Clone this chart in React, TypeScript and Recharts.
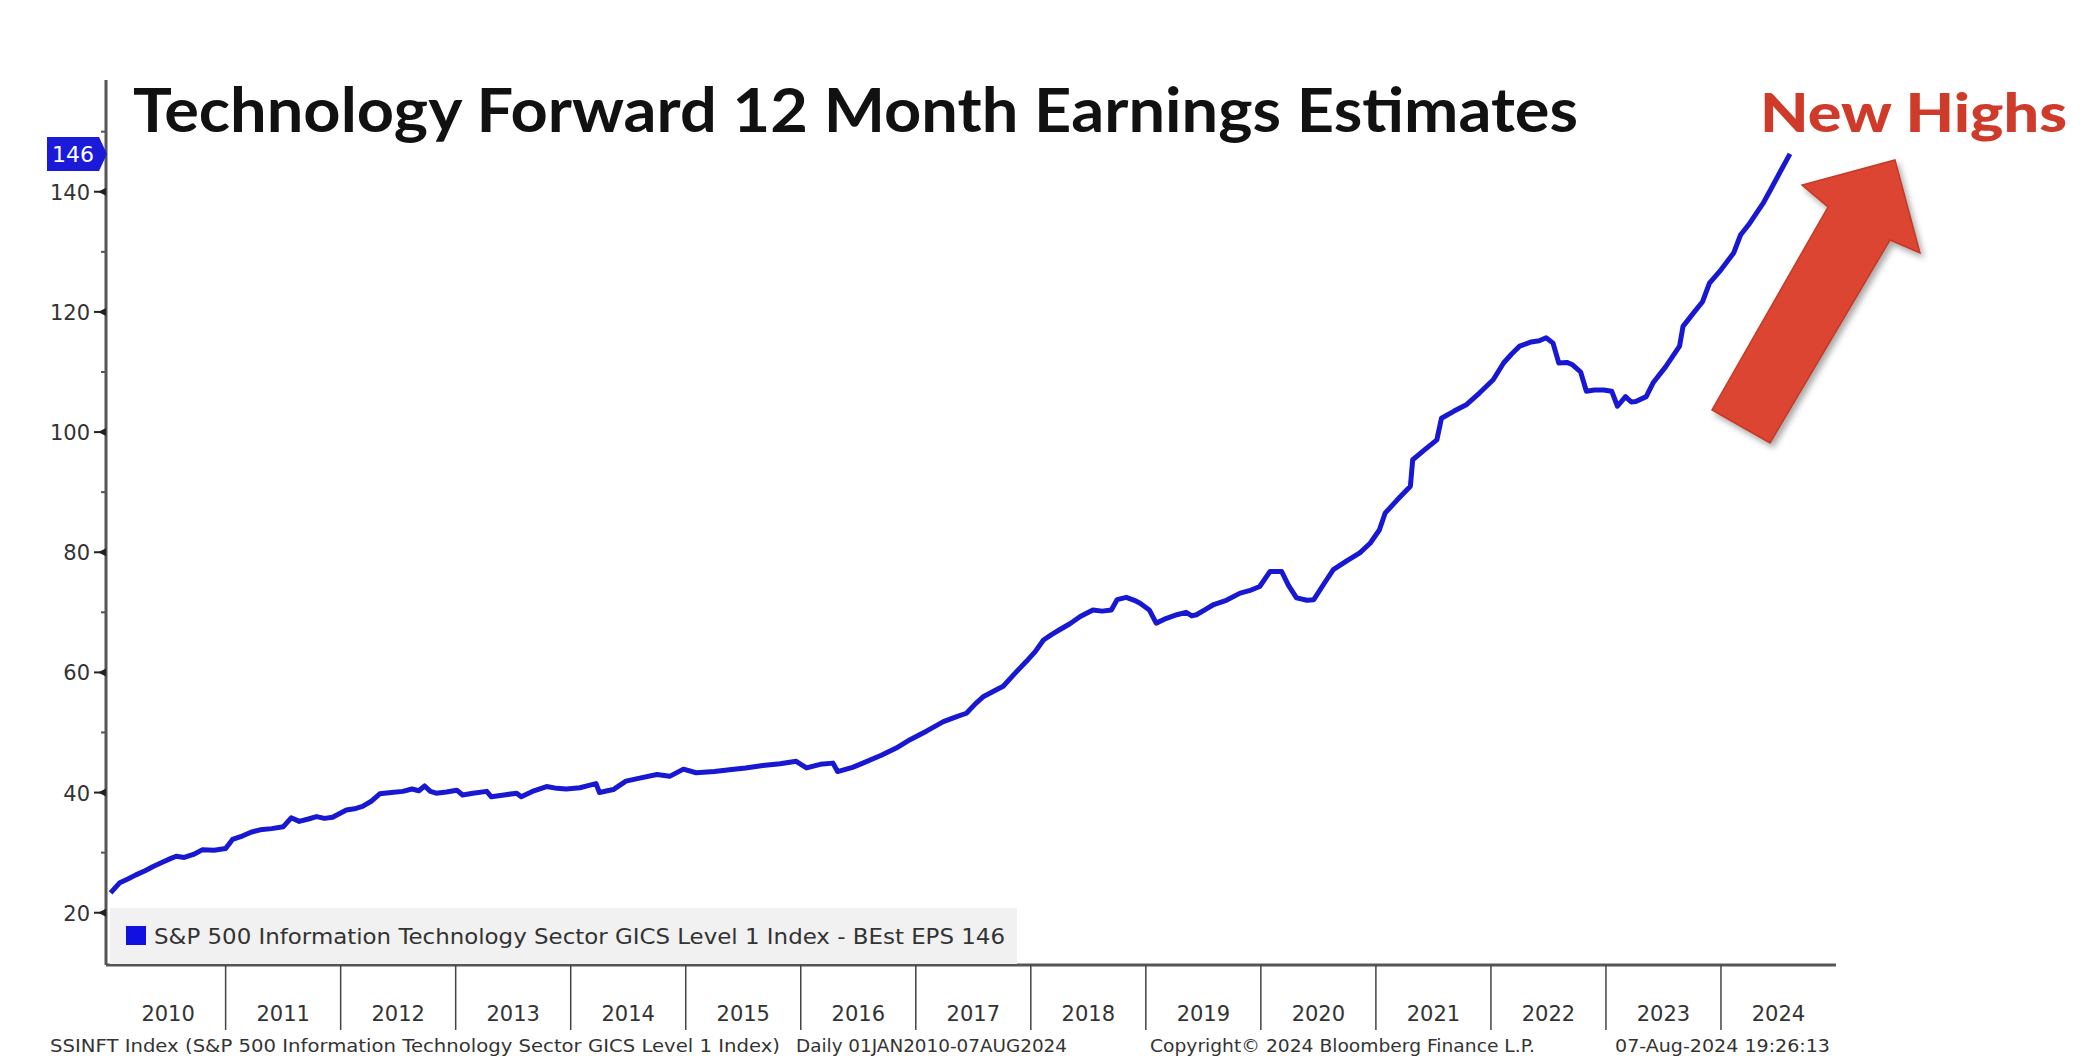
import { Legend, Line, LineChart, XAxis, YAxis } from 'recharts'

// decimal year of each reading, and the forward EPS
const dates = [
  2010.0, 2010.08, 2010.15, 2010.22, 2010.3, 2010.37, 2010.45, 2010.52, 2010.57, 2010.64,
  2010.72, 2010.8, 2010.9, 2011.0, 2011.06, 2011.15, 2011.22, 2011.3, 2011.4, 2011.5,
  2011.57, 2011.64, 2011.72, 2011.79, 2011.86, 2011.93, 2012.05, 2012.12, 2012.19, 2012.27,
  2012.34, 2012.44, 2012.54, 2012.62, 2012.68, 2012.73, 2012.78, 2012.83, 2012.92, 2013.01,
  2013.06, 2013.15, 2013.27, 2013.31, 2013.42, 2013.53, 2013.57, 2013.68, 2013.79, 2013.88,
  2013.96, 2014.08, 2014.16, 2014.22, 2014.25, 2014.37, 2014.48, 2014.6, 2014.75, 2014.86,
  2014.98, 2015.09, 2015.25, 2015.38, 2015.52, 2015.67, 2015.82, 2015.96, 2016.05, 2016.17,
  2016.28, 2016.32, 2016.45, 2016.54, 2016.7, 2016.83, 2016.95, 2017.1, 2017.24, 2017.35,
  2017.44, 2017.52, 2017.59, 2017.68, 2017.76, 2017.86, 2017.96, 2018.04, 2018.11, 2018.18,
  2018.25, 2018.34, 2018.43, 2018.54, 2018.62, 2018.7, 2018.75, 2018.83, 2018.9, 2018.95,
  2019.03, 2019.09, 2019.18, 2019.27, 2019.35, 2019.4, 2019.44, 2019.52, 2019.59, 2019.7,
  2019.82, 2019.9, 2019.99, 2020.08, 2020.18, 2020.24, 2020.31, 2020.4, 2020.46, 2020.55,
  2020.63, 2020.75, 2020.86, 2020.95, 2021.03, 2021.08, 2021.18, 2021.3, 2021.32, 2021.42,
  2021.53, 2021.57, 2021.68, 2021.79, 2021.9, 2022.02, 2022.11, 2022.18, 2022.25, 2022.35,
  2022.42, 2022.48, 2022.54, 2022.59, 2022.66, 2022.71, 2022.78, 2022.83, 2022.9, 2022.98,
  2023.05, 2023.1, 2023.17, 2023.22, 2023.26, 2023.35, 2023.41, 2023.52, 2023.64, 2023.67,
  2023.76, 2023.84, 2023.9, 2024.0, 2024.11, 2024.17, 2024.24, 2024.31, 2024.37, 2024.43,
  2024.52, 2024.6,
]
const eps = [
  23.3, 25.0, 25.6, 26.3, 27.0, 27.7, 28.4, 29.0, 29.4, 29.2,
  29.7, 30.5, 30.4, 30.7, 32.2, 32.8, 33.4, 33.8, 34.0, 34.3,
  35.8, 35.2, 35.6, 36.0, 35.7, 35.9, 37.1, 37.3, 37.7, 38.6,
  39.8, 40.0, 40.2, 40.6, 40.3, 41.1, 40.2, 39.9, 40.1, 40.4,
  39.6, 39.9, 40.2, 39.3, 39.6, 39.9, 39.3, 40.3, 41.0, 40.7,
  40.6, 40.8, 41.2, 41.5, 40.0, 40.5, 41.9, 42.4, 43.0, 42.7,
  43.9, 43.3, 43.5, 43.8, 44.1, 44.5, 44.8, 45.2, 44.1, 44.7,
  44.9, 43.5, 44.2, 44.9, 46.2, 47.4, 48.8, 50.3, 51.8, 52.6,
  53.2, 54.8, 56.0, 56.9, 57.7, 59.8, 61.8, 63.5, 65.4, 66.3,
  67.1, 68.1, 69.3, 70.4, 70.2, 70.4, 72.1, 72.5, 72.0, 71.5,
  70.4, 68.2, 69.0, 69.6, 70.0, 69.4, 69.6, 70.5, 71.3, 72.0,
  73.2, 73.6, 74.3, 76.8, 76.8, 74.5, 72.4, 72.0, 72.1, 74.8,
  77.1, 78.6, 79.9, 81.5, 83.7, 86.5, 88.6, 91.0, 95.4, 97.0,
  98.7, 102.3, 103.5, 104.6, 106.5, 108.7, 111.5, 113.0, 114.3, 115.0,
  115.2, 115.7, 114.8, 111.5, 111.6, 111.2, 110.0, 106.8, 107.0, 107.0,
  106.8, 104.3, 105.9, 105.0, 105.1, 105.9, 108.2, 110.9, 114.3, 117.6,
  119.8, 121.7, 124.8, 127.0, 129.8, 132.8, 134.5, 136.5, 138.2, 140.3,
  143.5, 146.3,
]

// year boundaries get a separator, mid-years carry the label
const yearBounds = [2011, 2012, 2013, 2014, 2015, 2016, 2017, 2018, 2019, 2020, 2021, 2022, 2023, 2024]
const yearMids = [2010.5, 2011.5, 2012.5, 2013.5, 2014.5, 2015.5, 2016.5, 2017.5, 2018.5, 2019.5, 2020.5, 2021.5, 2022.5, 2023.5, 2024.5]
const yearLabels = ['2010', '2011', '2012', '2013', '2014', '2015', '2016', '2017', '2018', '2019', '2020', '2021', '2022', '2023', '2024']
const minorTicks = [30, 50, 70, 90, 110, 130, 150]
const majorTicks = [20, 40, 60, 80, 100, 120, 140]

const lastEps = eps[eps.length - 1]
const title = 'Technology Forward 12 Month Earnings Estimates'
const callout = 'New Highs'
const legendLabel = 'S&P 500 Information Technology Sector GICS Level 1 Index - BEst EPS 146'
const footerNotes = [
  { text: 'SSINFT Index (S&P 500 Information Technology Sector GICS Level 1 Index)', x: 50, w: 730 },
  { text: 'Daily 01JAN2010-07AUG2024', x: 796, w: 271 },
  { text: 'Copyright© 2024 Bloomberg Finance L.P.', x: 1150, w: 385 },
  { text: '07-Aug-2024 19:26:13', x: 1615, w: 215 },
]

const LINE_BLUE = '#1818d2'
const TEXT = '#333333'
const FONT = '"DejaVu Sans", Verdana, sans-serif'

const chartData = dates.map((d, i) => ({ date: d, eps: eps[i] }))
const xTicks = [...yearBounds, ...yearMids].sort((a, b) => a - b)

function ValueTick(props: any) {
  const { x, y, payload } = props
  const v = payload.value
  if (v === lastEps) {
    return (
      <g>
        <path
          d={`M${x - 59},${y - 17} H${x - 7} L${x + 1},${y} L${x - 7},${y + 17} H${x - 59} Z`}
          fill='#1a1ad8'
        />
        <text x={x - 33} y={y + 8} textAnchor='middle' fill='#ffffff' fontSize={22} fontFamily={FONT}>
          {Math.round(v)}
        </text>
      </g>
    )
  }
  if (majorTicks.includes(v)) {
    return (
      <g>
        <line x1={x - 12} x2={x - 4} y1={y} y2={y} stroke='#222' strokeWidth={2} />
        <path d={`M${x - 8},${y} L${x},${y - 4} L${x},${y + 4} Z`} fill='#222' />
        <text x={x - 16} y={y + 8} textAnchor='end' fill={TEXT} fontSize={21} fontFamily={FONT}>
          {v}
        </text>
      </g>
    )
  }
  return <line x1={x - 5} x2={x} y1={y} y2={y} stroke='#555' strokeWidth={2} />
}

function YearTick(props: any) {
  const { x, y, payload } = props
  const v = payload.value
  if (yearBounds.includes(v)) {
    return <line x1={x} x2={x} y1={y} y2={y + 65} stroke='#444' strokeWidth={1.5} />
  }
  return (
    <text x={x} y={y + 56} textAnchor='middle' fill={TEXT} fontSize={21} fontFamily={FONT}>
      {yearLabels[yearMids.indexOf(v)]}
    </text>
  )
}

function LegendBox() {
  return (
    <div style={{ width: 907, height: 56, background: '#f1f1f1' }}>
      <svg width={907} height={56}>
        <rect x={16} y={18} width={20} height={19} fill='#1010e0' />
        <text x={44} y={36} fontSize={21} fill={TEXT} fontFamily={FONT} textLength={851} lengthAdjust='spacingAndGlyphs'>
          {legendLabel}
        </text>
      </svg>
    </div>
  )
}

export default function App() {
  return (
    <div style={{ position: 'absolute', left: 0, top: 0, width: 2084, height: 1061, background: '#fff' }}>
      <LineChart
        width={2084}
        height={1061}
        data={chartData}
        margin={{ top: 80, right: 248, bottom: 0, left: 0 }}
      >
        <XAxis
          dataKey='date'
          type='number'
          domain={[2009.96, 2025]}
          allowDataOverflow
          ticks={xTicks}
          tick={<YearTick />}
          tickLine={false}
          axisLine={{ stroke: '#555', strokeWidth: 3 }}
          tickSize={0}
          tickMargin={0}
          interval={0}
          height={96}
        />
        <YAxis
          type='number'
          domain={[11.3, 158.6]}
          allowDataOverflow
          ticks={[...majorTicks, ...minorTicks, lastEps].sort((a, b) => a - b)}
          tick={<ValueTick />}
          tickLine={false}
          tickSize={0}
          tickMargin={0}
          interval={0}
          axisLine={{ stroke: '#555', strokeWidth: 3 }}
          width={106}
        />
        <Legend
          layout='horizontal'
          verticalAlign='middle'
          align='center'
          content={() => <LegendBox />}
          wrapperStyle={{ left: 110, top: 908, width: 907, height: 56 }}
        />
        <Line
          type='linear'
          dataKey='eps'
          stroke={LINE_BLUE}
          strokeWidth={5}
          strokeLinejoin='round'
          dot={false}
          isAnimationActive={false}
        />
      </LineChart>
      <svg
        width={2084}
        height={1061}
        style={{ position: 'absolute', left: 0, top: 0, pointerEvents: 'none' }}
      >
        <defs>
          <filter id='arrowShadow' x='-20%' y='-20%' width='140%' height='140%'>
            <feDropShadow dx='3' dy='4' stdDeviation='3' floodColor='#000' floodOpacity='0.35' />
          </filter>
        </defs>
        <text
          x={133}
          y={132}
          fontSize={61}
          fontWeight={700}
          fontFamily='Lato, "Open Sans", sans-serif'
          fill='#111'
          textLength={1445}
          lengthAdjust='spacingAndGlyphs'
        >
          {title}
        </text>
        <text
          x={1760}
          y={132}
          fontSize={54}
          fontWeight={900}
          fontFamily='Lato, "Open Sans", sans-serif'
          fill='#cf3b2a'
          textLength={307}
          lengthAdjust='spacingAndGlyphs'
        >
          {callout}
        </text>
        <polygon
          points='1895,160 1920,253 1890,240 1770,443 1712,410 1828,207 1802,185'
          fill='#dc4531'
          stroke='#c23a28'
          strokeWidth={1.5}
          filter='url(#arrowShadow)'
        />
        {footerNotes.map((n) => (
          <text
            key={n.text}
            x={n.x}
            y={1052}
            fontSize={18}
            fill={TEXT}
            fontFamily={FONT}
            textLength={n.w}
            lengthAdjust='spacingAndGlyphs'
          >
            {n.text}
          </text>
        ))}
      </svg>
    </div>
  )
}
